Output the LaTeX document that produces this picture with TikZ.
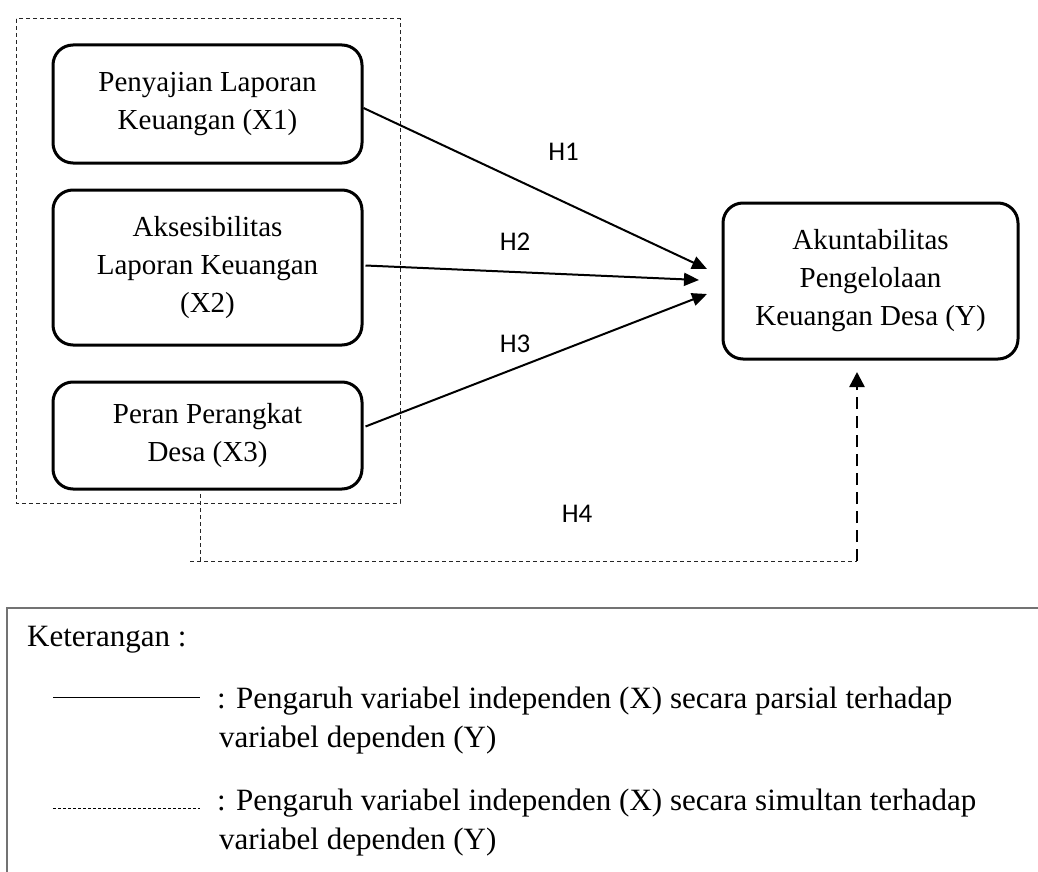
\documentclass[tikz,border=0pt]{standalone}
\usepackage{fontspec}
\setmainfont{Liberation Serif}
\newfontfamily\hfont{Carlito}
\usetikzlibrary{arrows.meta}
\begin{document}
\begin{tikzpicture}[x=1pt,y=-1pt,
  varbox/.style={draw,line width=3pt,rounded corners=20pt,align=center,inner sep=0pt,
    font=\fontsize{29}{38}\selectfont},
  harrow/.style={line width=2pt,-{Triangle[length=15pt,width=13pt]}},
  hlabel/.style={font=\hfont\fontsize{27}{32}\selectfont,inner sep=0pt},
  thindash/.style={line width=1pt,dash pattern=on 4pt off 3pt,black!85},
  legtext/.style={font=\fontsize{31}{39}\selectfont,inner sep=0pt,anchor=base west}]
\useasboundingbox (0,0) rectangle (1038,872);
% outer dashed group box
\draw[thindash] (16,19) rectangle (400,503);
% variable boxes
\node[varbox,minimum width=309pt,minimum height=118pt] (x1) at (207.5,104) {Penyajian Laporan\\Keuangan (X1)};
\node[varbox,minimum width=309pt,minimum height=155pt] (x2) at (207.5,267.5) {Aksesibilitas\\Laporan Keuangan\\(X2)};
\node[varbox,minimum width=309pt,minimum height=107pt] (x3) at (207.5,435.5) {Peran Perangkat\\Desa (X3)};
\node[varbox,minimum width=295pt,minimum height=156pt] (y) at (870.5,281) {Akuntabilitas\\Pengelolaan\\Keuangan Desa (Y)};
% arrow end points
\coordinate (t1) at (707,269);
\coordinate (t2) at (699,280);
\coordinate (t3) at (707,294);
\draw[harrow] ([yshift=-4pt]x1.east) -- (t1);
\draw[harrow] ([xshift=2pt,yshift=2pt]x2.east) -- (t2);
\draw[harrow] ([xshift=2pt,yshift=9pt]x3.east) -- (t3);
% labels
\node[hlabel] (h1) at (563.5,152) {H1};
\node[hlabel] (h2) at (515,241.5) {H2};
\node[hlabel] (h3) at (515,344) {H3};
\node[hlabel] (h4) at (577,514) {H4};
% simultaneous path
\coordinate (s0) at (200,494);
\coordinate (s1) at (200,561);
\coordinate (s2) at (190,561);
\coordinate (s3) at (857,561);
\coordinate (s4) at (857,372);
\draw[thindash] (s0) -- (s1);
\draw[thindash] (s2) -- (s3);
\draw[line width=2.5pt,dash pattern=on 12pt off 7pt,-{Triangle[length=15pt,width=15pt]}] (s3) -- (s4);
% legend
\draw[line width=1.5pt,black!55] (7,872) -- (7,608) -- (1038,608);
\node[legtext] (ket) at (27,646) {Keterangan :};
\coordinate (l1a) at (53,697);
\coordinate (l1b) at (200,697);
\coordinate (l2a) at (53,808);
\coordinate (l2b) at (200,808);
\draw[line width=1pt] (l1a) -- (l1b);
\draw[line width=0.8pt,dash pattern=on 3pt off 2pt] (l2a) -- (l2b);
\node[legtext] (leg1a) at (217,708) {: Pengaruh variabel independen (X) secara parsial terhadap};
\node[legtext] (leg1b) at (219,747) {variabel dependen (Y)};
\node[legtext] (leg2a) at (217,810) {: Pengaruh variabel independen (X) secara simultan terhadap};
\node[legtext] (leg2b) at (219,849) {variabel dependen (Y)};
\end{tikzpicture}
\end{document}
